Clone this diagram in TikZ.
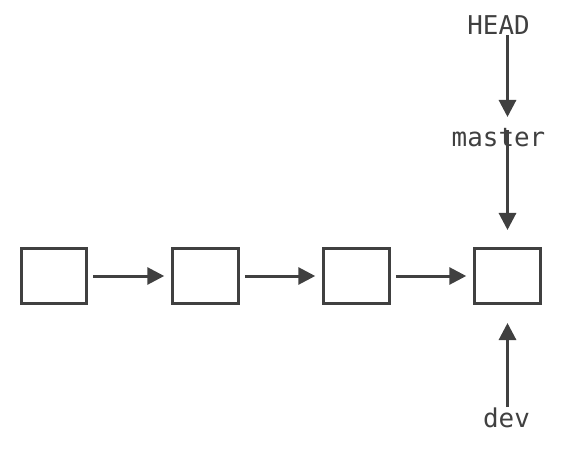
\documentclass[tikz,border=0pt]{standalone}
\usepackage{fontspec}
\setmonofont{DejaVu Sans Mono}
\usetikzlibrary{arrows.meta}
\definecolor{ink}{HTML}{404040}
\tikzset{
  commit/.style={draw=ink, line width=3bp, minimum width=65.5bp, minimum height=55bp, inner sep=0pt, outer sep=0pt},
  lbl/.style={text=ink, font=\ttfamily\fontsize{26}{30}\selectfont, inner sep=0pt, anchor=base},
  arr/.style={draw=ink, line width=3bp, -{Triangle[length=17bp,width=17bp]}},
}
\begin{document}
\begin{tikzpicture}[x=1bp,y=-1bp]
\useasboundingbox (0,0) rectangle (564,450);
\node[commit] (b1) at (54,276) {};
\node[commit] (b2) at (205.5,276) {};
\node[commit] (b3) at (356.5,276) {};
\node[commit] (b4) at (507.5,276) {};
\node[lbl] (HEAD) at (498.5,35) {HEAD};
\node[lbl] (master) at (498.5,147) {master};
\node[lbl] (dev) at (506.5,427) {dev};
\coordinate (htail) at (507.5,35);
\coordinate (htip) at (507.5,117);
\coordinate (mtail) at (507.5,130);
\coordinate (dtail) at (507.5,407);
\draw[arr, shorten <=6.5bp, shorten >=8.5bp] (b1.east) -- (b2.west);
\draw[arr, shorten <=6.5bp, shorten >=8.5bp] (b2.east) -- (b3.west);
\draw[arr, shorten <=6.5bp, shorten >=8.5bp] (b3.east) -- (b4.west);
\draw[arr] (htail) -- (htip);
\draw[arr, shorten >=18.5bp] (mtail) -- (b4.north);
\draw[arr, shorten >=19.5bp] (dtail) -- (b4.south);
\end{tikzpicture}
\end{document}
